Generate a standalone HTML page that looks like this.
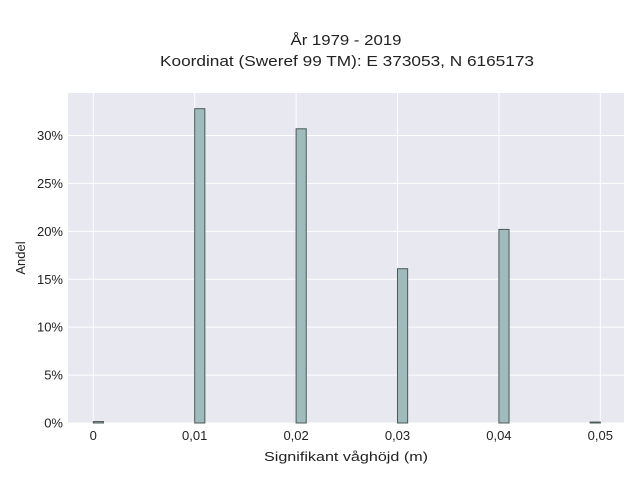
<!DOCTYPE html>
<html><head><meta charset="utf-8"><style>
body{margin:0;background:#fff;}
svg text{font-family:"Liberation Sans",sans-serif;fill:#222;}
</style></head><body>
<svg width="640" height="480" viewBox="0 0 640 480">
<text x="346" y="45" text-anchor="middle" font-size="15" textLength="111" lengthAdjust="spacingAndGlyphs">År 1979 - 2019</text>
<text x="347" y="66" text-anchor="middle" font-size="15" textLength="374" lengthAdjust="spacingAndGlyphs">Koordinat (Sweref 99 TM): E 373053, N 6165173</text>
<rect x="68" y="93" width="556" height="330" fill="#e8e8f1"/>
<g id="grid"></g>
<g id="bars"></g>
<g id="labels"></g>
<text x="346" y="461" text-anchor="middle" font-size="13" textLength="164" lengthAdjust="spacingAndGlyphs">Signifikant våghöjd (m)</text>
<text x="25" y="258" text-anchor="middle" font-size="13" transform="rotate(-90 25 258)">Andel</text>
</svg>
<script>
const binStarts=[0,0.01,0.02,0.03,0.04,0.049];
const binShares=[0.15,32.8,30.7,16.1,20.2,0.1];
const binWidth=0.001;
const xTicks=[0,0.01,0.02,0.03,0.04,0.05];
const xTickLabels=["0","0,01","0,02","0,03","0,04","0,05"];
const yTicks=[0,5,10,15,20,25,30];
const yTickLabels=["0%","5%","10%","15%","20%","25%","30%"];
const ns="http://www.w3.org/2000/svg";
const X=v=>93.3+v*10140;
const Y=v=>423-v*9.583;
const grid=document.getElementById('grid'),bars=document.getElementById('bars'),labels=document.getElementById('labels');
function mk(tag,attrs,parent){const e=document.createElementNS(ns,tag);for(const k in attrs)e.setAttribute(k,attrs[k]);parent.appendChild(e);return e;}
xTicks.forEach((t,i)=>{
 const l=mk('line',{x1:X(t),x2:X(t),y1:93,y2:423,stroke:'#fff','stroke-width':1},grid);
 
 
 const tx=mk('text',{x:X(t),y:440,'text-anchor':'middle','font-size':13},labels);
 tx.textContent=xTickLabels[i];
 
 
});
yTicks.forEach((t,i)=>{
 const l=mk('line',{x1:68,x2:624,y1:Y(t),y2:Y(t),stroke:'#fff','stroke-width':1},grid);
 
 
 const tx=mk('text',{x:63,y:Y(t)+4.5,'text-anchor':'end','font-size':13},labels);
 tx.textContent=yTickLabels[i];
 
 
});
binStarts.forEach((s,i)=>{
 const x0=X(s),x1=X(s+binWidth);
 const r=mk('rect',{x:x0,y:Y(binShares[i]),width:x1-x0,height:Y(0)-Y(binShares[i]),fill:'#9fbbbb',stroke:'#4a5858','stroke-width':1},bars);
 
 
});
</script>
</body></html>
